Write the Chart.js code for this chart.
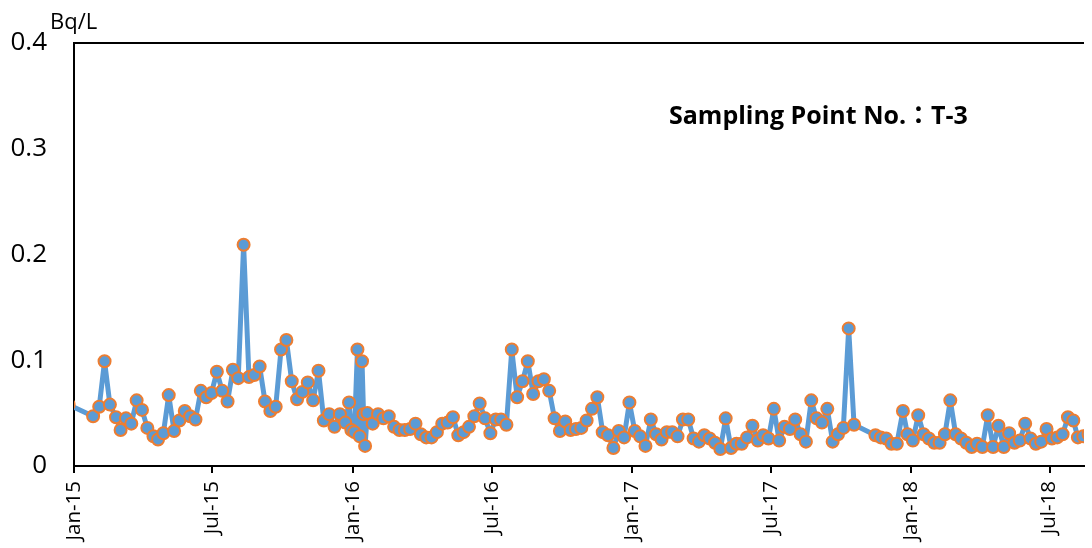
<!DOCTYPE html>
<html>
<head>
<meta charset="utf-8">
<script src="https://cdn.jsdelivr.net/npm/chart.js@4/dist/chart.umd.min.js"></script>
<style>
  html, body { margin: 0; padding: 0; background: #fff; }
  #wrap { width: 1092px; height: 548px; position: relative; }
</style>
</head>
<body>
<div id="wrap"><canvas id="c"></canvas></div>
<script>
// weekly samples (first one lies before the axis start and is clipped)
const sampleDates = [
  '2014-12-25','2015-01-26','2015-02-03','2015-02-10','2015-02-17','2015-02-25','2015-03-03','2015-03-10','2015-03-17','2015-03-24',
  '2015-03-31','2015-04-07','2015-04-15','2015-04-21','2015-04-28','2015-05-05','2015-05-12','2015-05-19','2015-05-26','2015-06-02',
  '2015-06-09','2015-06-16','2015-06-23','2015-06-30','2015-07-07','2015-07-14','2015-07-21','2015-07-28','2015-08-04','2015-08-11',
  '2015-08-18','2015-08-25','2015-09-01','2015-09-08','2015-09-15','2015-09-22','2015-09-29','2015-10-06','2015-10-13','2015-10-20',
  '2015-10-27','2015-11-03','2015-11-10','2015-11-17','2015-11-24','2015-12-01','2015-12-08','2015-12-15','2015-12-22','2015-12-27',
  '2015-12-30','2016-01-03','2016-01-07','2016-01-10','2016-01-13','2016-01-15','2016-01-17','2016-01-20','2016-01-27','2016-02-03',
  '2016-02-10','2016-02-17','2016-02-24','2016-03-02','2016-03-09','2016-03-16','2016-03-23','2016-03-30','2016-04-06','2016-04-13',
  '2016-04-20','2016-04-27','2016-05-04','2016-05-11','2016-05-18','2016-05-25','2016-06-01','2016-06-08','2016-06-15','2016-06-22',
  '2016-06-29','2016-07-06','2016-07-13','2016-07-20','2016-07-27','2016-08-03','2016-08-10','2016-08-17','2016-08-24','2016-08-31',
  '2016-09-07','2016-09-14','2016-09-21','2016-09-28','2016-10-05','2016-10-12','2016-10-19','2016-10-26','2016-11-02','2016-11-09',
  '2016-11-16','2016-11-23','2016-11-30','2016-12-07','2016-12-14','2016-12-21','2016-12-28','2017-01-04','2017-01-11','2017-01-18',
  '2017-01-25','2017-02-01','2017-02-08','2017-02-15','2017-02-22','2017-03-01','2017-03-08','2017-03-15','2017-03-22','2017-03-29',
  '2017-04-05','2017-04-12','2017-04-19','2017-04-26','2017-05-03','2017-05-10','2017-05-17','2017-05-24','2017-05-31','2017-06-07',
  '2017-06-14','2017-06-21','2017-06-28','2017-07-05','2017-07-12','2017-07-19','2017-07-26','2017-08-02','2017-08-09','2017-08-16',
  '2017-08-23','2017-08-30','2017-09-06','2017-09-13','2017-09-20','2017-09-27','2017-10-04','2017-10-11','2017-10-18','2017-11-15',
  '2017-11-22','2017-11-29','2017-12-06','2017-12-13','2017-12-21','2017-12-27','2018-01-03','2018-01-10','2018-01-17','2018-01-24',
  '2018-01-31','2018-02-07','2018-02-14','2018-02-21','2018-02-28','2018-03-07','2018-03-14','2018-03-21','2018-03-28','2018-04-04',
  '2018-04-11','2018-04-18','2018-04-25','2018-05-02','2018-05-09','2018-05-16','2018-05-23','2018-05-30','2018-06-06','2018-06-13',
  '2018-06-20','2018-06-27','2018-07-04','2018-07-11','2018-07-18','2018-07-25','2018-08-01','2018-08-07','2018-08-14','2018-08-21'
];
const concentration = [
  0.058,0.047,0.056,0.099,0.058,0.046,0.034,0.045,0.040,0.062,
  0.053,0.036,0.028,0.025,0.031,0.067,0.033,0.043,0.052,0.047,
  0.044,0.071,0.065,0.069,0.089,0.071,0.061,0.091,0.083,0.209,
  0.084,0.086,0.094,0.061,0.052,0.056,0.110,0.119,0.080,0.063,
  0.070,0.079,0.062,0.090,0.043,0.049,0.037,0.049,0.041,0.060,
  0.034,0.032,0.110,0.028,0.099,0.049,0.019,0.050,0.040,0.049,
  0.045,0.047,0.037,0.034,0.034,0.035,0.040,0.030,0.027,0.027,
  0.032,0.040,0.041,0.046,0.029,0.032,0.037,0.047,0.059,0.045,
  0.031,0.044,0.044,0.039,0.110,0.065,0.080,0.099,0.068,0.080,
  0.082,0.071,0.045,0.033,0.042,0.034,0.035,0.036,0.043,0.054,
  0.065,0.032,0.029,0.017,0.033,0.027,0.060,0.033,0.028,0.019,
  0.044,0.030,0.025,0.032,0.032,0.028,0.044,0.044,0.026,0.023,
  0.029,0.026,0.022,0.016,0.045,0.017,0.021,0.021,0.027,0.038,
  0.024,0.029,0.026,0.054,0.024,0.037,0.035,0.044,0.030,0.023,
  0.062,0.045,0.041,0.054,0.023,0.030,0.036,0.130,0.039,0.029,
  0.027,0.026,0.021,0.021,0.052,0.030,0.024,0.048,0.030,0.026,
  0.022,0.022,0.030,0.062,0.030,0.026,0.022,0.018,0.021,0.018,
  0.048,0.018,0.038,0.018,0.031,0.022,0.024,0.040,0.026,0.021,
  0.023,0.035,0.026,0.027,0.030,0.046,0.043,0.027,0.028,0.030
];
const tickDates = ['2015-01-01','2015-07-01','2016-01-01','2016-07-01','2017-01-01','2017-07-01','2018-01-01','2018-07-01'];
const tickLabels = ['Jan-15','Jul-15','Jan-16','Jul-16','Jan-17','Jul-17','Jan-18','Jul-18'];
const yTicks = [0, 0.1, 0.2, 0.3, 0.4];
const axisStart = '2015-01-01', axisEnd = '2018-08-15';
const unitLabel = 'Bq/L';
const pointLabel = 'Sampling Point No.：T-3';

// days since 2015-01-01 (no date adapter available, so x is a plain linear axis)
const day = s => { const [y, m, d] = s.split('-').map(Number); return (Date.UTC(y, m - 1, d) - Date.UTC(2015, 0, 1)) / 864e5; };

const FONT = "'Open Sans', 'Noto Sans CJK JP', sans-serif";

const textPlugin = {
  id: 'texts',
  afterDraw(chart) {
    const { ctx } = chart;
    ctx.save();
    ctx.fillStyle = '#000';
    ctx.textBaseline = 'alphabetic';
    ctx.textAlign = 'left';
    ctx.font = `22px ${FONT}`;
    ctx.fillText(unitLabel, 50, 29);
    ctx.font = `bold 25px ${FONT}`;
    ctx.fillText(pointLabel, 669, 124);
    ctx.restore();
  }
};

new Chart(document.getElementById('c'), {
  type: 'line',
  data: {
    datasets: [{
      data: sampleDates.map((d, i) => ({ x: day(d), y: concentration[i] })),
      borderColor: '#5b9bd5', backgroundColor: '#5b9bd5', borderWidth: 5, tension: 0,
      borderJoinStyle: 'round', borderCapStyle: 'round',
      pointRadius: 6, pointBackgroundColor: '#5b9bd5', pointBorderColor: '#ed7d31', pointBorderWidth: 2,
      clip: { left: 0, top: false, right: 0, bottom: false }
    }]
  },
  options: {
    responsive: true, maintainAspectRatio: false, animation: false, devicePixelRatio: 1,
    layout: { padding: { top: 40, right: 0, bottom: 0, left: 0 } },
    plugins: { legend: { display: false }, tooltip: { enabled: false } },
    scales: {
      x: {
        type: 'linear', min: day(axisStart), max: day(axisEnd),
        afterBuildTicks: s => { s.ticks = tickDates.map(d => ({ value: day(d) })); },
        afterFit: s => { s.height = 82; },
        grid: { drawOnChartArea: false, color: '#000', lineWidth: 2, tickLength: 7 },
        border: { color: '#000', width: 2 },
        ticks: { autoSkip: false, minRotation: 90, maxRotation: 90, padding: 8, color: '#000',
          font: { family: FONT, size: 20.5 }, callback: (v, i) => tickLabels[i] }
      },
      y: {
        min: 0, max: 0.4,
        afterBuildTicks: s => { s.ticks = yTicks.map(v => ({ value: v })); },
        afterFit: s => { s.width = 74; },
        grid: { drawTicks: false, lineWidth: 2, color: c => (c.tick && Math.abs(c.tick.value - 0.4) < 1e-9) ? '#000' : 'rgba(0,0,0,0)' },
        border: { color: '#000', width: 2 },
        ticks: { padding: 27, color: '#000', font: { family: FONT, size: 26 }, callback: v => String(v) }
      }
    }
  },
  plugins: [textPlugin]
});
</script>
</body>
</html>
